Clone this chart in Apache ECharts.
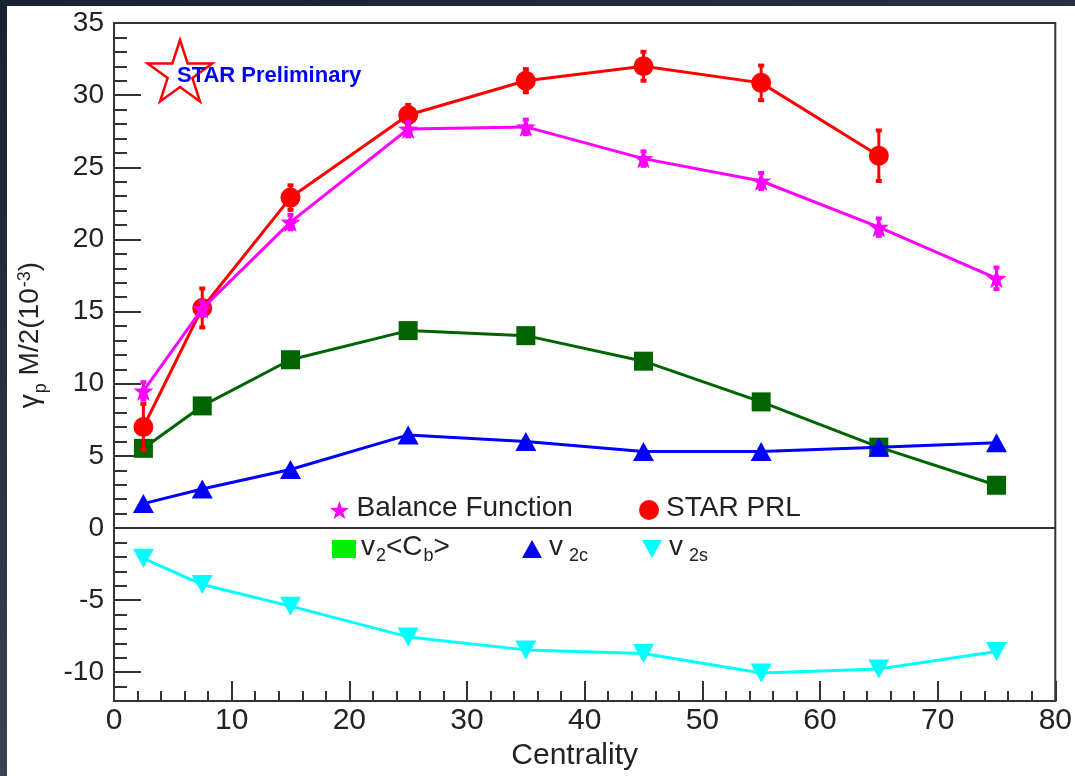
<!DOCTYPE html>
<html>
<head>
<meta charset="utf-8">
<script src="https://cdn.jsdelivr.net/npm/echarts@6/dist/echarts.min.js"></script>
<style>
  html, body { margin: 0; padding: 0; width: 1075px; height: 776px; overflow: hidden; }
  body { background: linear-gradient(160deg, #1a2132 0%, #2a3244 40%, #4f5664 100%); position: relative; }
  #chart { position: absolute; left: 7px; top: 6px; width: 1068px; height: 770px; background: #ffffff; }
</style>
</head>
<body>
<div id="chart"></div>
<script>
// ---- data ----
const centAll = [2.5, 7.5, 15, 25, 35, 45, 55, 65, 75];
const centPRL = [2.5, 7.5, 15, 25, 35, 45, 55, 65];
const balanceFn = [9.5, 15.2, 21.2, 27.65, 27.8, 25.6, 24.05, 20.85, 17.3];
const balanceErr = [0.6, 0.5, 0.5, 0.5, 0.5, 0.5, 0.55, 0.6, 0.75];
const starPRL = [7.0, 15.25, 22.9, 28.62, 31.0, 32.0, 30.85, 25.8];
const starPRLErr = [1.6, 1.35, 0.85, 0.7, 0.8, 1.0, 1.2, 1.75];
const v2Cb = [5.52, 8.46, 11.66, 13.68, 13.33, 11.56, 8.74, 5.6, 2.96];
const v2c = [1.69, 2.7, 4.05, 6.45, 6.0, 5.3, 5.3, 5.6, 5.9];
const v2s = [-2.1, -3.92, -5.42, -7.55, -8.45, -8.7, -10.05, -9.77, -8.56];
const xRange = [0, 80];
const yRange = [-12, 35];
const yMajorTicks = [-10, -5, 0, 5, 10, 15, 20, 25, 30, 35];

const STAR_PATH = 'path://M50 0 L61.75 33.8 L97.55 34.55 L69 56.2 L79.4 90.45 L50 70 L20.6 90.45 L31 56.2 L2.45 34.55 L38.25 33.8 Z';
const TRI_UP = 'path://M50 0 L100 90 L0 90 Z';
const TRI_DOWN = 'path://M0 0 L100 0 L50 90 Z';
const FONT = '"Liberation Sans", Arial, Helvetica, sans-serif';

function pairs(xs, ys) { return xs.map((x, i) => [x, ys[i]]); }
function triples(xs, ys, es) { return xs.map((x, i) => [x, ys[i], es[i]]); }

function errRender(color) {
  return function (params, api) {
    const x = api.value(0), y = api.value(1), e = api.value(2);
    const t = api.coord([x, y + e]);
    const b = api.coord([x, y - e]);
    return {
      type: 'group',
      children: [
        { type: 'line', shape: { x1: t[0], y1: t[1], x2: b[0], y2: b[1] }, style: { stroke: color, lineWidth: 3 } },
        { type: 'rect', shape: { x: t[0] - 3, y: t[1] - 2, width: 6, height: 4 }, style: { fill: color } },
        { type: 'rect', shape: { x: b[0] - 3, y: b[1] - 2, width: 6, height: 4 }, style: { fill: color } }
      ]
    };
  };
}

function starPoints(cx, cy, R, r) {
  const pts = [];
  for (let k = 0; k < 10; k++) {
    const ang = -Math.PI / 2 + k * Math.PI / 5;
    const rad = k % 2 === 0 ? R : r;
    pts.push([cx + rad * Math.cos(ang), cy + rad * Math.sin(ang)]);
  }
  return pts;
}

const richMain = {
  a: { fontSize: 28, fontFamily: FONT, color: '#222', lineHeight: 32, verticalAlign: 'top' },
  s: { fontSize: 18, fontFamily: FONT, color: '#222', lineHeight: 20, padding: [14, 0, 0, 1], verticalAlign: 'top' }
};

function oneLegend(name, left, top, icon, color, w, h) {
  return {
    show: true, left: left, top: top, padding: 0, itemGap: 0,
    itemWidth: w, itemHeight: h, selectedMode: false,
    data: [{ name: name, icon: icon, itemStyle: { color: color } }],
    textStyle: { fontSize: 28, fontFamily: FONT, color: '#222', rich: richMain },
    formatter: function (n) {
      if (n === 'v2<Cb>') return '{a|v}{s|2}{a|<C}{s|b}{a|>}';
      if (n === 'v2c') return '{a|v}{s| 2c}';
      if (n === 'v2s') return '{a|v}{s| 2s}';
      return '{a|' + n + '}';
    }
  };
}

const chart = echarts.init(document.getElementById('chart'), null, { renderer: 'canvas' });
const axisLineStyle = { color: '#333', width: 2 };
const option = {
  animation: false,
  backgroundColor: '#ffffff',
  grid: { left: 107, width: 942, top: 17, height: 684, show: true, borderColor: '#333', borderWidth: 2, backgroundColor: '#fff' },
  xAxis: {
    type: 'value', min: xRange[0], max: xRange[1], interval: 10,
    name: 'Centrality', nameLocation: 'middle', nameGap: 34,
    nameTextStyle: { fontSize: 30, fontFamily: FONT, color: '#222', padding: [0, 20, 0, 0] },
    axisLine: { show: true, onZero: false, lineStyle: axisLineStyle },
    axisTick: { show: true, inside: true, length: 20, lineStyle: axisLineStyle },
    minorTick: { show: true, splitNumber: 5, length: 10, lineStyle: axisLineStyle },
    axisLabel: { fontSize: 30, fontFamily: FONT, color: '#222', margin: 5 },
    splitLine: { show: false }
  },
  yAxis: [
    {
      type: 'value', min: yRange[0], max: yRange[1], interval: 1,
      name: '{a|γ}{s|p}{a| M/2(10}{u|-3}{a|)}', nameLocation: 'middle', nameGap: 66, nameRotate: 90,
      nameTextStyle: {
        fontSize: 28, fontFamily: FONT, color: '#222', padding: [0, 0, 0, 54],
        rich: {
          a: { fontSize: 28, fontFamily: FONT, color: '#222', lineHeight: 32, verticalAlign: 'top' },
          s: { fontSize: 18, fontFamily: FONT, color: '#222', lineHeight: 20, padding: [16, 0, 0, 1], verticalAlign: 'top' },
          u: { fontSize: 18, fontFamily: FONT, color: '#222', lineHeight: 20, padding: [0, 0, 0, 1], verticalAlign: 'top' }
        }
      },
      axisLine: { show: true, onZero: false, lineStyle: axisLineStyle },
      axisTick: { show: true, inside: true, length: 13, lineStyle: axisLineStyle },
      axisLabel: { show: false },
      splitLine: { show: false }
    },
    {
      type: 'value', min: yRange[0], max: yRange[1], position: 'left',
      axisLine: { show: false },
      axisTick: { show: true, inside: true, length: 27, lineStyle: axisLineStyle, customValues: yMajorTicks },
      axisLabel: { show: true, fontSize: 28, fontFamily: FONT, color: '#222', margin: 10, customValues: yMajorTicks },
      splitLine: { show: false }
    }
  ],
  legend: [
    oneLegend('Balance Function', 323, 488, STAR_PATH, '#ff00ff', 24, 18),
    oneLegend('STAR PRL', 632, 488, 'circle', '#ff0000', 24, 20),
    oneLegend('v2<Cb>', 325, 527, 'rect', '#00ee00', 24, 18),
    oneLegend('v2c', 515, 527, TRI_UP, '#0000ff', 24, 18),
    oneLegend('v2s', 635, 527, TRI_DOWN, '#00ffff', 24, 18)
  ],
  graphic: [
    { type: 'polygon', shape: { points: starPoints(173, 68, 34, 13) }, style: { fill: '#fff', stroke: '#ff0000', lineWidth: 2.5 }, z: 50 },
    { type: 'text', x: 170, y: 70, style: { text: 'STAR Preliminary', fontSize: 22, fontWeight: 'bold', fontFamily: FONT, fill: '#0000ff', verticalAlign: 'middle' }, z: 51 }
  ],
  series: [
    {
      name: 'v2<Cb>', type: 'line', data: pairs(centAll, v2Cb), z: 2,
      symbol: 'rect', symbolSize: 19, itemStyle: { color: '#006400' }, lineStyle: { color: '#006400', width: 3 },
      silent: true,
      markLine: { silent: true, symbol: 'none', label: { show: false }, lineStyle: { color: '#333', width: 2, type: 'solid' }, data: [{ yAxis: 0 }] }
    },
    {
      name: 'v2c', type: 'line', data: pairs(centAll, v2c), z: 3,
      symbol: TRI_UP, symbolSize: [21, 19], itemStyle: { color: '#0000ff' }, lineStyle: { color: '#0000ff', width: 3 }, silent: true
    },
    {
      name: 'v2s', type: 'line', data: pairs(centAll, v2s), z: 4,
      symbol: TRI_DOWN, symbolSize: [21, 19], itemStyle: { color: '#00ffff' }, lineStyle: { color: '#00ffff', width: 3 }, silent: true
    },
    {
      name: 'STAR PRL', type: 'line', data: pairs(centPRL, starPRL), z: 5,
      symbol: 'circle', symbolSize: 20, itemStyle: { color: '#ff0000' }, lineStyle: { color: '#ff0000', width: 3 }, silent: true
    },
    {
      name: 'STAR PRL err', type: 'custom', data: triples(centPRL, starPRL, starPRLErr), z: 6,
      encode: { x: 0, y: 1 }, renderItem: errRender('#ff0000'), silent: true
    },
    {
      name: 'Balance Function', type: 'line', data: pairs(centAll, balanceFn), z: 7,
      symbol: STAR_PATH, symbolSize: 20, itemStyle: { color: '#ff00ff' }, lineStyle: { color: '#ff00ff', width: 3 }, silent: true
    },
    {
      name: 'Balance Function err', type: 'custom', data: triples(centAll, balanceFn, balanceErr), z: 8,
      encode: { x: 0, y: 1 }, renderItem: errRender('#ff00ff'), silent: true
    }
  ]
};
chart.setOption(option);
</script>
</body>
</html>
